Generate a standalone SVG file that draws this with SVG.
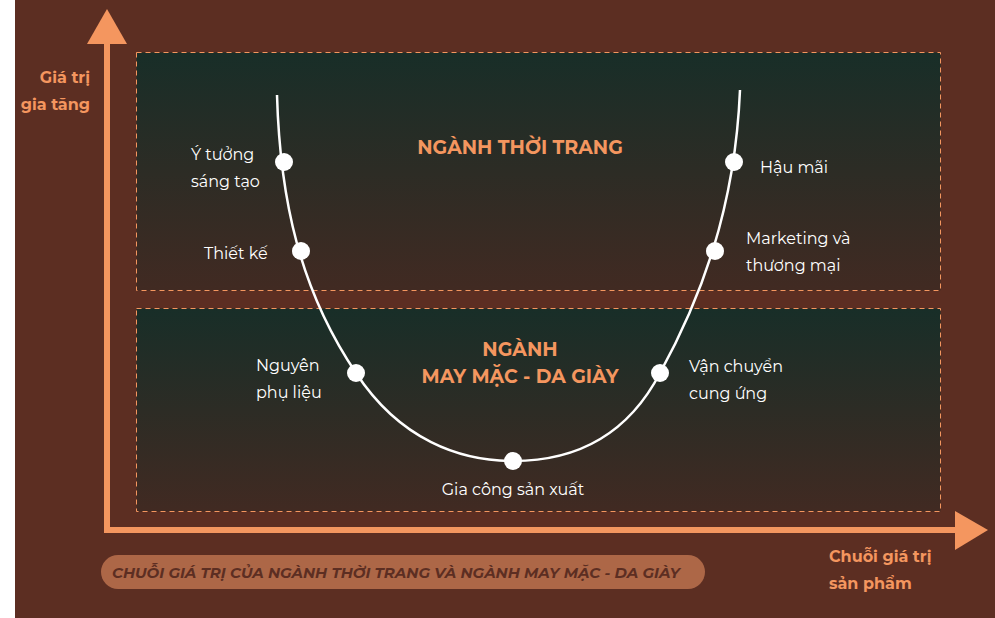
<svg xmlns="http://www.w3.org/2000/svg" width="995" height="618" viewBox="0 0 995 618">
<defs>
<linearGradient id="g1" x1="0" y1="0" x2="0" y2="1"><stop offset="0" stop-color="#182e28"/><stop offset="1" stop-color="#412a22"/></linearGradient>
<style>
.panel{stroke:#f4965f;stroke-width:1;stroke-dasharray:5,4}
.lbl{font-family:Montserrat,"Noto Sans",sans-serif;font-size:16px;fill:#fff}
.ttl{font-family:Montserrat,"Noto Sans",sans-serif;font-size:19px;font-weight:bold;fill:#f4965f;text-anchor:middle}
.ax{font-family:Montserrat,"Noto Sans",sans-serif;font-size:16px;font-weight:bold;fill:#f4965f}
.dot{fill:#fff}
</style>
</defs>
<rect width="995" height="618" fill="#fff"/>
<rect x="15" y="0" width="980" height="618" fill="#5c2e22"/>
<g id="panel-top"><rect class="panel" x="136.5" y="52.5" width="804" height="238" fill="url(#g1)"/><text class="ttl" x="520" y="154">NGÀNH THỜI TRANG</text></g>
<g id="panel-bottom"><rect class="panel" x="136.5" y="308.5" width="804" height="203" fill="url(#g1)"/><text class="ttl" x="520" y="356">NGÀNH</text><text class="ttl" x="520" y="383">MAY MẶC - DA GIÀY</text></g>
<g id="connectors">
<rect x="104" y="42" width="6" height="490" fill="#f4965f"/>
<polygon points="107,9 127,44 87,44" fill="#f4965f"/>
<rect x="104" y="527" width="854" height="6" fill="#f4965f"/>
<polygon points="988,530 955,511 955,550" fill="#f4965f"/>
<path d="M277,95 C280,200 300,290 356,373 C400,440 460,461 513,461 C570,461 625,440 660,373 C700,300 735,210 740,90" fill="none" stroke="#fff" stroke-width="2.5"/>
</g>
<g id="nodes">
<circle class="dot" cx="284" cy="162" r="9"/><text class="lbl" x="191" y="160">Ý tưởng</text><text class="lbl" x="191" y="187">sáng tạo</text>
<circle class="dot" cx="301" cy="251" r="9"/><text class="lbl" x="204" y="259">Thiết kế</text>
<circle class="dot" cx="356" cy="373" r="9"/><text class="lbl" x="256" y="371">Nguyên</text><text class="lbl" x="256" y="398">phụ liệu</text>
<circle class="dot" cx="513" cy="461" r="9"/><text class="lbl" x="513" y="495" text-anchor="middle">Gia công sản xuất</text>
<circle class="dot" cx="660" cy="373" r="9"/><text class="lbl" x="689" y="372">Vận chuyển</text><text class="lbl" x="689" y="399">cung ứng</text>
<circle class="dot" cx="715" cy="251" r="9"/><text class="lbl" x="746" y="244">Marketing và</text><text class="lbl" x="746" y="271">thương mại</text>
<circle class="dot" cx="734" cy="162" r="9"/><text class="lbl" x="760" y="173">Hậu mãi</text>
</g>
<g id="axis-labels">
<text class="ax" x="90" y="83" text-anchor="end">Giá trị</text><text class="ax" x="90" y="110" text-anchor="end">gia tăng</text>
<text class="ax" x="829" y="562">Chuỗi giá trị</text><text class="ax" x="829" y="589">sản phẩm</text>
</g>
<g id="caption"><rect x="101" y="555" width="604" height="34" rx="17" fill="#ad6747"/><text x="112" y="578" textLength="568" lengthAdjust="spacingAndGlyphs" font-family="Montserrat,'Noto Sans',sans-serif" font-size="14" font-weight="bold" font-style="italic" fill="#5c2e22">CHUỖI GIÁ TRỊ CỦA NGÀNH THỜI TRANG VÀ NGÀNH MAY MẶC - DA GIÀY</text></g>
</svg>
